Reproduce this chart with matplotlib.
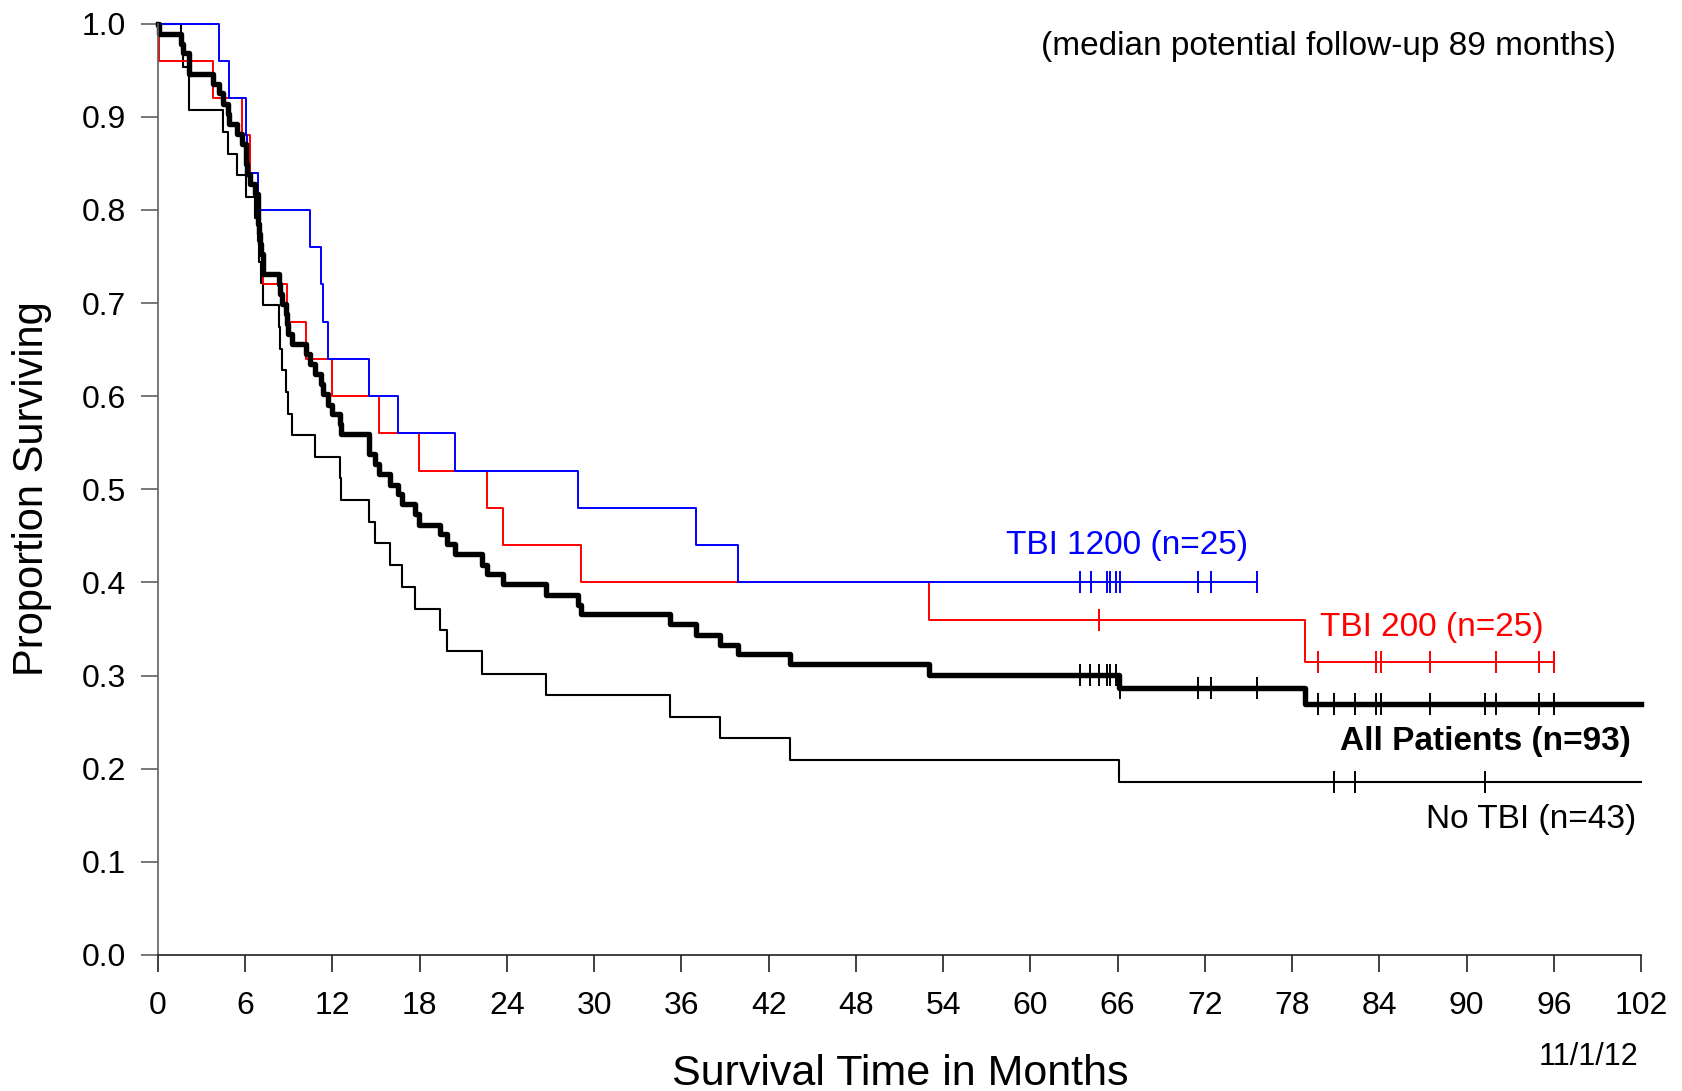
import matplotlib
matplotlib.use('Agg')
import matplotlib.pyplot as plt
import numpy as np

plt.rcParams['font.family'] = ['Liberation Sans', 'DejaVu Sans']

# Kaplan-Meier steps (months, proportion surviving)
all_t = [0, 0.1, 1.6, 1.75, 2.15, 3.76, 4.2, 4.5, 4.84, 4.9, 5.4, 5.75, 6.05, 6.15,
         6.3, 6.67, 6.85, 6.9, 6.95, 7.0, 7.1, 7.2, 7.25, 8.3, 8.4, 8.5, 8.8, 8.85,
         8.96, 9.2, 10.2, 10.45, 10.8, 11.2, 11.37, 11.7, 12.0, 12.5, 12.6, 14.5,
         14.9, 15.2, 15.96, 16.5, 16.8, 17.7, 17.95, 19.4, 19.9, 20.4, 22.3, 22.65,
         23.75, 26.7, 28.9, 29.1, 35.2, 37.0, 38.65, 39.9, 43.5, 53.0, 66.1, 78.9, 102]
all_s = [1.000, 0.989, 0.978, 0.968, 0.946, 0.935, 0.925, 0.914, 0.903, 0.892, 0.882,
         0.871, 0.849, 0.839, 0.828, 0.817, 0.796, 0.785, 0.774, 0.763, 0.753, 0.742,
         0.731, 0.720, 0.710, 0.699, 0.688, 0.677, 0.667, 0.656, 0.645, 0.634, 0.624,
         0.613, 0.602, 0.591, 0.581, 0.570, 0.559, 0.538, 0.527, 0.516, 0.505, 0.495,
         0.484, 0.473, 0.462, 0.452, 0.441, 0.430, 0.419, 0.409, 0.398, 0.387, 0.376,
         0.366, 0.355, 0.344, 0.333, 0.323, 0.312, 0.301, 0.287, 0.270, 0.270]
all_cens = [63.4, 64.1, 64.7, 65.3, 65.5, 65.9, 66.2, 71.5, 72.4, 75.6, 79.8, 80.9,
            82.3, 83.8, 84.1, 87.5, 91.3, 92.0, 95.0, 96.0]

tbi1200_t = [0, 4.2, 4.9, 6.05, 6.15, 6.9, 10.45, 11.2, 11.37, 11.7, 14.5, 16.5, 20.4,
             28.9, 37.0, 39.9, 75.6]
tbi1200_s = [1.00, 0.96, 0.92, 0.88, 0.84, 0.80, 0.76, 0.72, 0.68, 0.64, 0.60, 0.56,
             0.52, 0.48, 0.44, 0.40, 0.40]
tbi1200_cens = [63.4, 64.2, 65.3, 65.45, 65.9, 66.2, 71.5, 72.4, 75.6]

tbi200_t = [0, 0.1, 3.76, 5.75, 6.3, 6.85, 7.0, 7.2, 8.85, 10.2, 12.0, 15.2, 17.95,
            22.65, 23.75, 29.1, 53.0, 78.9, 96.0]
tbi200_s = [1.00, 0.96, 0.92, 0.88, 0.84, 0.80, 0.76, 0.72, 0.68, 0.64, 0.60, 0.56,
            0.52, 0.48, 0.44, 0.40, 0.36, 0.315, 0.315]
tbi200_cens = [64.7, 79.8, 83.8, 84.1, 87.5, 92.0, 95.0, 96.0]

notbi_t = [0, 1.6, 1.75, 2.15, 4.5, 4.84, 5.4, 6.05, 6.67, 6.85, 6.95, 7.1, 7.25, 8.3,
           8.4, 8.5, 8.8, 8.96, 9.2, 10.8, 12.5, 12.6, 14.5, 14.9, 15.96, 16.8, 17.7,
           19.4, 19.9, 22.3, 26.7, 35.2, 38.65, 43.5, 66.1, 102]
notbi_s = [1.000, 0.977, 0.953, 0.907, 0.884, 0.860, 0.837, 0.814, 0.791, 0.767, 0.744,
           0.721, 0.698, 0.674, 0.651, 0.628, 0.605, 0.581, 0.558, 0.535, 0.512, 0.488,
           0.465, 0.442, 0.419, 0.395, 0.372, 0.349, 0.326, 0.302, 0.279, 0.256, 0.233,
           0.209, 0.186, 0.186]
notbi_cens = [80.9, 82.3, 91.3]

x_ticks = list(range(0, 103, 6))
y_ticks = [0.0, 0.1, 0.2, 0.3, 0.4, 0.5, 0.6, 0.7, 0.8, 0.9, 1.0]
y_ticklabels = ['0.0', '0.1', '0.2', '0.3', '0.4', '0.5', '0.6', '0.7', '0.8', '0.9', '1.0']


def censor_y(t, s, c):
    idx = np.searchsorted(t, c, side='right') - 1
    return np.array(s)[idx]


fig = plt.figure(figsize=(16.82, 10.91), dpi=100)
ax = fig.add_axes([158 / 1682, 1 - 955 / 1091, (1641 - 158) / 1682, (955 - 23.6) / 1091])

curves = [
    (notbi_t, notbi_s, notbi_cens, 'black', 1.5),
    (tbi200_t, tbi200_s, tbi200_cens, '#ff0000', 1.4),
    (tbi1200_t, tbi1200_s, tbi1200_cens, '#0000ff', 1.4),
    (all_t, all_s, all_cens, 'black', 3.9),
]
for t, s, cens, col, lw in curves:
    ax.step(t, s, where='post', color=col, lw=lw, clip_on=False)
    ax.plot(cens, censor_y(t, s, cens), ls='none', marker='|', ms=16, mew=1.4,
            color=col, clip_on=False)

ax.set_xlim(0, 102)
ax.set_ylim(0, 1)
ax.set_xticks(x_ticks)
ax.set_yticks(y_ticks)
ax.set_yticklabels(y_ticklabels)
ax.spines['top'].set_visible(False)
ax.spines['right'].set_visible(False)
ax.spines['left'].set_color('#606060')
ax.spines['bottom'].set_color('#202020')
ax.spines['left'].set_linewidth(1.2)
ax.spines['bottom'].set_linewidth(1.2)
ax.tick_params(axis='y', length=12, width=1.2, color='#606060', labelsize=23, pad=11)
ax.tick_params(axis='x', length=12, width=1.2, color='#202020', labelsize=23, pad=14)

ax.text(80.5, 0.975, '(median potential follow-up 89 months)', fontsize=24,
        ha='center', va='center')
ax.text(58.3, 0.431, 'TBI 1200 (n=25)', fontsize=24, color='#0000ff', va='baseline')
ax.text(79.9, 0.343, 'TBI 200 (n=25)', fontsize=24, color='#ff0000', va='baseline')
ax.text(101.3, 0.220, 'All Patients (n=93)', fontsize=24, fontweight='bold',
        ha='right', va='baseline')
ax.text(101.7, 0.136, 'No TBI (n=43)', fontsize=24, ha='right', va='baseline')

fig.text(32 / 1682, 1 - 489 / 1091, 'Proportion Surviving', fontsize=30,
         rotation=90, ha='center', va='center')
fig.text(900 / 1682, 1 - 1074 / 1091, 'Survival Time in Months', fontsize=31,
         ha='center', va='center')
fig.text(1638 / 1682, 1 - 1057 / 1091, '11/1/12', fontsize=22, ha='right', va='center')

fig.savefig('out.png', dpi=100)
